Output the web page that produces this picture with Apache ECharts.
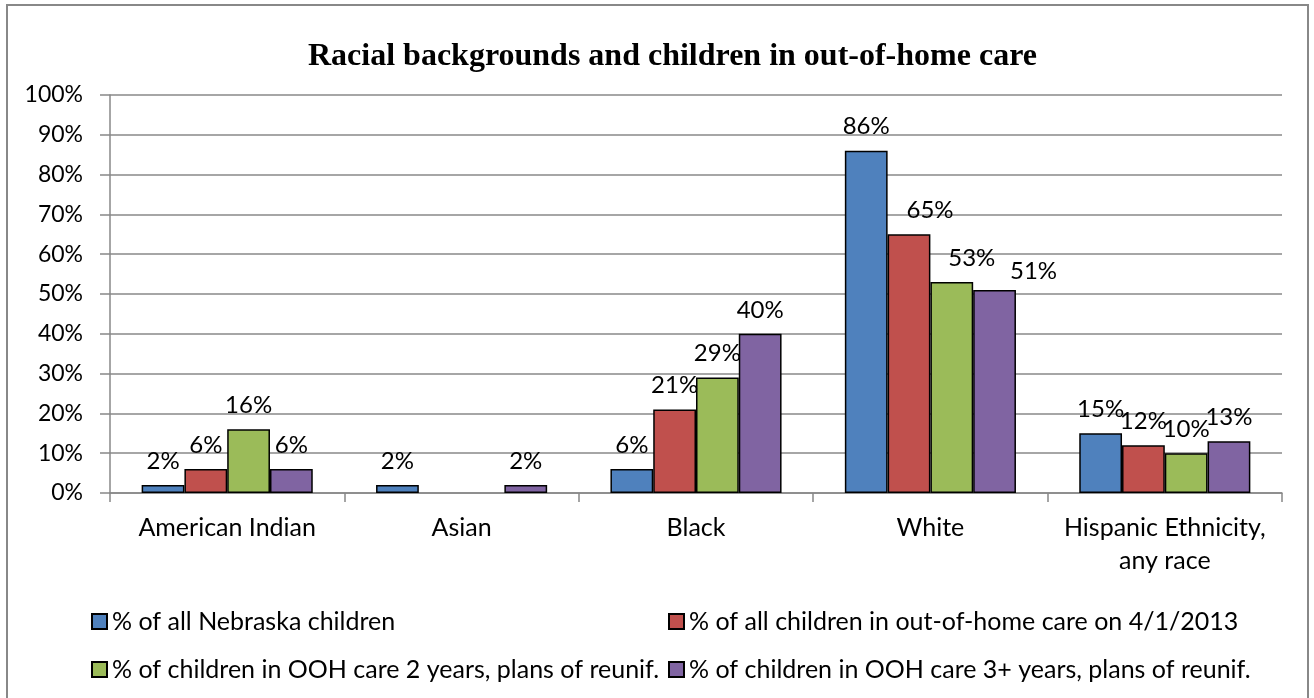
<!DOCTYPE html>
<html><head><meta charset="utf-8">
<script src="https://cdn.jsdelivr.net/npm/echarts@6/dist/echarts.min.js"></script>
<style>html,body{margin:0;padding:0;background:#fff}#c{width:1314px;height:698px}</style>
</head><body><div id="c"></div>
<script>
const categories = ['American Indian', 'Asian', 'Black', 'White', 'Hispanic Ethnicity,\nany race'];
const seriesNames = [
  '% of all Nebraska children',
  '% of all children in out-of-home care on 4/1/2013',
  '% of children in OOH care 2 years, plans of reunif.',
  '% of children in OOH care 3+ years, plans of reunif.'
];
const nebraska = [2, 2, 6, 86, 15];
const oohAll = [6, null, 21, 65, 12];
const ooh2yr = [16, null, 29, 53, 10];
const ooh3yr = [6, 2, 40, 51, 13];
const colors = ['#4F81BD', '#C0504D', '#9BBB59', '#8064A2'];
const values = [nebraska, oohAll, ooh2yr, ooh3yr];
// manual label nudges (as in the original, White group labels shifted right)
const labelOffsets = [
  [null, null, null, null, null],
  [null, null, null, [21, 0], null],
  [null, null, null, [20, 0], null],
  [null, null, null, [39, 5], null]
];
const font = 'Lato, "Open Sans", sans-serif';

const chart = echarts.init(document.getElementById('c'));
const legendPos = [[86, 604], [663, 604], [86, 652], [663, 652]];
chart.setOption({
  animation: false,
  graphic: [{type: 'rect', shape: {x: 7, y: 5, width: 1301, height: 720}, style: {fill: 'none', stroke: '#888', lineWidth: 2}}],
  title: {text: 'Racial backgrounds and children in out-of-home care', left: 303, top: 36,
    textStyle: {fontFamily: '"Liberation Serif", serif', fontWeight: 'bold', fontSize: 32, color: '#000'}},
  legend: seriesNames.map((n, i) => ({
    data: [n], left: legendPos[i][0], top: legendPos[i][1], itemWidth: 15, itemHeight: 15, itemGap: 4,
    icon: 'rect', textStyle: {fontFamily: font, fontSize: 25, color: '#000', padding: [0, 0, 0, 0]}
  })),
  grid: {left: 110, right: 32, top: 95, bottom: 205},
  xAxis: {type: 'category', data: categories,
    axisLine: {lineStyle: {color: '#888', width: 1.5}},
    axisTick: {show: true, length: 9, lineStyle: {color: '#888', width: 1.5}},
    axisLabel: {interval: 0, fontFamily: font, fontSize: 25, color: '#000', margin: 18, lineHeight: 33}},
  yAxis: {type: 'value', min: 0, max: 100, interval: 10,
    axisLine: {show: true, lineStyle: {color: '#888', width: 1.5}},
    axisTick: {show: true, length: 10, lineStyle: {color: '#888', width: 1.5}},
    splitLine: {lineStyle: {color: '#888', width: 1.5}},
    axisLabel: {formatter: '{value}%', fontFamily: font, fontSize: 23, color: '#000', margin: 27}},
  series: values.map((v, i) => ({
    name: seriesNames[i], type: 'bar', barGap: '0%', barCategoryGap: '27%',
    data: v.map((val, j) => labelOffsets[i][j] ? {value: val, label: {offset: labelOffsets[i][j]}} : val),
    itemStyle: {color: colors[i], borderColor: '#000', borderWidth: 1.5},
    label: {show: true, position: 'top', formatter: p => p.value == null ? '' : p.value + '%',
      fontFamily: font, fontSize: 24, color: '#000', distance: 12}
  }))
});
</script></body></html>
